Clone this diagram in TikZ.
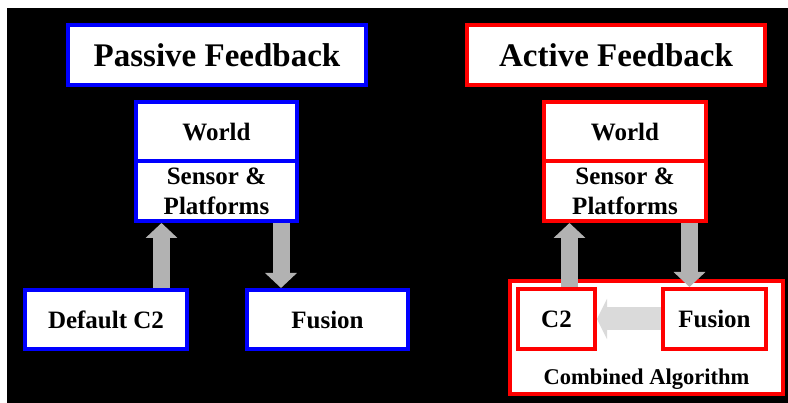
\documentclass[tikz,border=0pt]{standalone}
\usepackage{fontspec}
\setmainfont{Liberation Serif}
\usetikzlibrary{positioning,arrows.meta}

\definecolor{pblue}{RGB}{0,0,255}
\definecolor{ared}{RGB}{255,0,0}
\definecolor{fatgray}{RGB}{178,178,178}
\definecolor{palegray}{RGB}{218,218,218}

\begin{document}
\begin{tikzpicture}
    [%%%%%%%%%%%%%%%%%%%%%%%%%%%%%%
    x=1pt,y=-1pt,
    box/.style={rectangle,draw,fill=white,line width=4pt,inner sep=0pt,align=center,
        font=\fontsize{25}{30}\selectfont\bfseries},
    passive/.style={box,draw=pblue},
    active/.style={box,draw=ared},
    title/.style={minimum width=298pt,minimum height=60pt,font=\fontsize{33}{38}\selectfont\bfseries},
    half/.style={minimum width=161pt,minimum height=59.5pt},
    fat/.style={draw=fatgray,line width=17pt,-{Triangle[width=31pt,length=15pt]}},
    pale/.style={draw=palegray,line width=23pt,-{Triangle[width=40pt,length=10pt]}},
    ]%%%%%%%%%%%%%%%%%%%%%%%%%%%%%%

    \useasboundingbox (0,0) rectangle (788,403);
    \fill[black] (7,8) rectangle (788,403);

    % passive
    \node[passive,title] at (217,55) (titleP) {Passive Feedback};
    \node[passive,half] at (216.5,131.75) (worldL) {World};
    \node[passive,half,below=-4pt of worldL] (sensorL) {Sensor \&\\Platforms};
    \node[passive,minimum width=162pt,minimum height=59pt] at (106,319.5) (dc2) {Default C2};
    \node[passive,minimum width=161pt,minimum height=59pt] at (327.5,319.5) (fusL) {Fusion};
    \draw[fat] ([xshift=55.5pt]dc2.north) -- ([xshift=55.5pt]dc2.north |- sensorL.south);
    \draw[fat] ([xshift=64.5pt]sensorL.south) -- ([xshift=64.5pt]sensorL.south |- fusL.north);

    % active
    \node[active,title] at (616,55) (titleA) {Active Feedback};
    \node[active,half,minimum width=162pt] at (625,131.75) (worldR) {World};
    \node[active,half,minimum width=162pt,below=-4pt of worldR] (sensorR) {Sensor \&\\Platforms};
    \node[active,minimum width=273pt,minimum height=113pt] at (646.5,337.5) (combo) {};
    \node[font=\fontsize{22.5}{26}\selectfont\bfseries,above=3pt of combo.south] (combo_text) {Combined Algorithm};
    \node[active,minimum width=77pt,minimum height=60pt] at (556.5,319) (c2) {C2};
    \node[active,minimum width=103pt,minimum height=60pt] at (714.5,319) (fusR) {Fusion};
    \draw[fat] ([xshift=13pt]c2.north) -- ([xshift=13pt]c2.north |- sensorR.south);
    \draw[fat] ([xshift=64.5pt]sensorR.south) -- ([xshift=64.5pt]sensorR.south |- fusR.north);
    \draw[pale] (fusR.west) -- (c2.east);
\end{tikzpicture}
\end{document}
